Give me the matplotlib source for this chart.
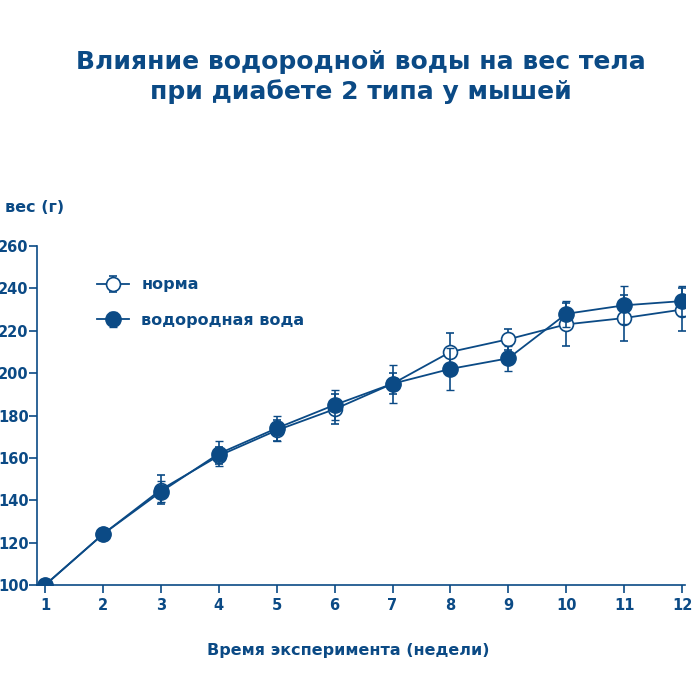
import matplotlib
matplotlib.use("Agg")
import matplotlib.pyplot as plt

weeks = [1,2,3,4,5,6,7,8,9,10,11,12]
norma = [100,124,145,161,173,183,195,210,216,223,226,230]
norma_err = [0,1.5,7,4,5,7,5,9,5,10,11,10]
hydro = [100,124,144,162,174,185,195,202,207,228,232,234]
hydro_err = [0,1.5,5,6,6,7,9,10,6,6,9,7]
yticks = [100,120,140,160,180,200,220,240,260]

C = "#0b4a85"
fig = plt.figure(figsize=(7,7), dpi=100)
ax = fig.add_axes([37/700, 1-585/700, 648/700, 339/700])
ax.errorbar(weeks, norma, yerr=norma_err, color=C, marker='o', ms=10, mfc='white', mec=C,
            mew=1.2, lw=1.3, capsize=3, elinewidth=1.2, label="норма", zorder=3)
ax.errorbar(weeks, hydro, yerr=hydro_err, color=C, marker='o', ms=11, mfc=C, mec=C,
            lw=1.3, capsize=3, elinewidth=1.2, label="водородная вода", zorder=4)
ax.set_xlim(0.86, 12.05)
ax.set_ylim(100, 260)
ax.set_xticks(weeks)
ax.set_yticks(yticks)
for s in ['top','right']:
    ax.spines[s].set_visible(False)
for s in ['left','bottom']:
    ax.spines[s].set_color(C); ax.spines[s].set_linewidth(1.2)
ax.tick_params(colors=C, labelsize=10.5, width=1.2, length=6)
ax.tick_params(axis='y', pad=0)
for l in ax.get_xticklabels()+ax.get_yticklabels():
    l.set_fontweight('bold'); l.set_color(C)
leg = ax.legend(loc='upper left', bbox_to_anchor=(0.07, 0.95), frameon=False,
                fontsize=11.5, labelspacing=1.3, handlelength=2)
for t in leg.get_texts():
    t.set_color(C); t.set_fontweight('bold')
fig.text(0.515, 0.89, "Влияние водородной воды на вес тела\nпри диабете 2 типа у мышей",
         ha='center', va='center', fontsize=18, fontweight='bold', color=C, linespacing=1.3)
fig.text(5/700, 1-207/700, "вес (г)", fontsize=11.5, fontweight='bold', color=C, va='center')
fig.text(348/700, 1-650/700, "Время эксперимента (недели)", fontsize=11.5, fontweight='bold',
         color=C, ha='center', va='center')
fig.savefig("out.png", dpi=100)
